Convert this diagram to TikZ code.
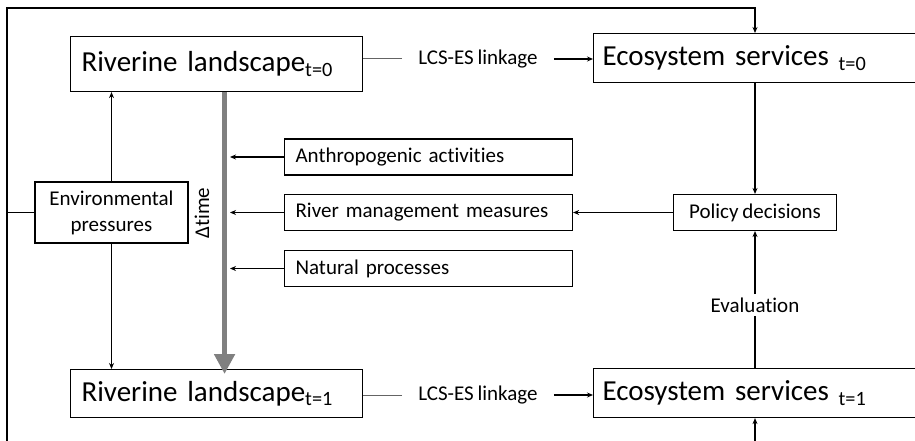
\documentclass[tikz,border=0pt]{standalone}
\usepackage{fontspec}
\setmainfont{Carlito}[Ligatures=NoCommon,WordSpace=0.8]
\usepackage{tikz}
\usetikzlibrary{arrows.meta}
\definecolor{timegray}{RGB}{128,128,128}
\definecolor{linkgray}{RGB}{100,100,100}

\begin{document}
\begin{tikzpicture}[x=1pt,y=-1pt,>={Stealth[length=6pt,width=5pt]},
    landbox/.style={draw,line width=1.1pt,anchor=north west,align=left,
      font=\fontsize{29}{35}\selectfont,inner xsep=11pt,inner ysep=0pt},
    smallbox/.style={draw,line width=1.1pt,font=\fontsize{21}{25}\selectfont,inner ysep=0pt},
    sidebox/.style={smallbox,anchor=west,align=left,text width=266pt,inner xsep=11pt,minimum height=36pt},
    smalltext/.style={font=\fontsize{21}{25}\selectfont},
    conn/.style={->,line width=1.1pt},
    linkline/.style={line width=1pt,linkgray},
    timearrow/.style={-{Triangle[width=20pt,length=20pt]},line width=5pt,timegray}]
    \useasboundingbox (0,0) rectangle (915,441);
    \clip (0,0) rectangle (915,441);
    % landscape and services at t=0 and t=1
    \node[landbox,text width=270pt,minimum height=55pt] (rl0) at (70,36) {Riverine landscape\textsubscript{t=0}};
    \node[landbox,text width=330pt,inner xsep=9pt,minimum height=49pt] (es0) at (593,33) {Ecosystem services \textsubscript{t=0}};
    \node[landbox,text width=270pt,minimum height=48pt] (rl1) at (70,369) {Riverine landscape\textsubscript{t=1}};
    \node[landbox,text width=330pt,inner xsep=9pt,minimum height=49pt] (es1) at (593,368) {Ecosystem services \textsubscript{t=1}};
    \node[smalltext,inner xsep=16pt] (link0) at (478,59) {LCS-ES linkage};
    \node[smalltext,inner xsep=16pt] (link1) at (478,395) {LCS-ES linkage};
    % drivers
    \node[smallbox,align=center,minimum width=153pt,minimum height=61pt,
      font=\fontsize{21}{26}\selectfont] (env) at (111.5,212.5) {Environmental\\pressures};
    \node[sidebox] (anthro) at (284,157) {Anthropogenic activities};
    \node[sidebox] (river) at (284,212.5) {River management measures};
    \node[sidebox] (natural) at (284,268.5) {Natural processes};
    \node[smallbox,minimum width=163pt,minimum height=36pt] (policy) at (755,212.5) {Policy decisions};
    \node[smalltext] (eval) at (755,305) {Evaluation};
    \node[smalltext,rotate=90] (dtime) at (202,213) {Δtime};
    \coordinate (frame) at (7,8);
    \coordinate (loop) at (755,8);
    \coordinate (loopend) at (755,460);
    \coordinate (tl) at (230,0);

    \draw[linkline] (link0.west) -- (link0.west -| rl0.east);
    \draw[conn] (link0.east) -- (link0.east -| es0.west);
    \draw[linkline] (link1.west) -- (link1.west -| rl1.east);
    \draw[conn] (link1.east) -- (link1.east -| es1.west);
    % feedback loop
    \draw[conn] (frame |- loopend) -- (frame) -- (loop) -- (loop |- es0.north);
    \draw[line width=1.1pt] (env.west) -- (env.west -| frame);
    \draw[conn] (loopend) -- (loopend |- es1.south);
    \draw[conn] (loop |- es0.south) -- (policy.north);
    \draw[conn] (policy.west) -- (river.east);
    \draw[conn] (eval.north) -- (policy.south);
    \draw[line width=1.1pt] (eval.south) -- (eval.south |- es1.north);
    \draw[conn] (env.north) -- (env.north |- rl0.south);
    \draw[conn] (env.south) -- (env.south |- rl1.north);
    \draw[timearrow] ([xshift=8pt]rl0.south) -- ([xshift=8pt,yshift=-5pt]rl1.north);
    \foreach \d in {anthro,river,natural}
      \draw[conn] (\d.west) -- (\d.west -| tl);
\end{tikzpicture}
\end{document}
